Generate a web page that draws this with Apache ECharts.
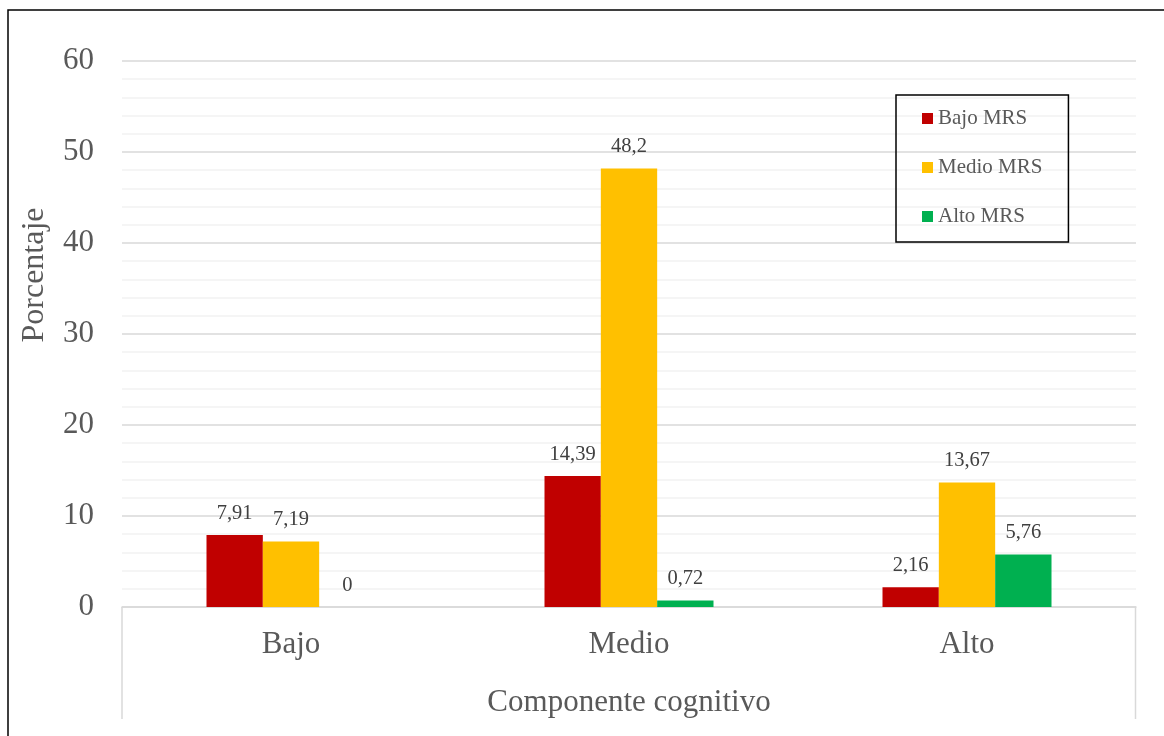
<!DOCTYPE html>
<html>
<head>
<meta charset="utf-8">
<script src="https://cdn.jsdelivr.net/npm/echarts@6/dist/echarts.min.js"></script>
<style>
html,body{margin:0;padding:0;background:#fff;}
#c{width:1164px;height:736px;}
</style>
</head>
<body>
<div id="c"></div>
<script>
const categories = ['Bajo', 'Medio', 'Alto'];
const seriesNames = ['Bajo MRS', 'Medio MRS', 'Alto MRS'];
const bajoMRS = [7.91, 14.39, 2.16];
const medioMRS = [7.19, 48.2, 13.67];
const altoMRS = [0, 0.72, 5.76];
const colors = ['#C00000', '#FFC000', '#00B050'];
const yTitle = 'Porcentaje';
const xTitle = 'Componente cognitivo';

const FONT = '"Liberation Serif", "Times New Roman", serif';
const chart = echarts.init(document.getElementById('c'), null, {renderer: 'canvas'});

const grid = {left: 122, right: 28, top: 61, bottom: 129};

function mkSeries(name, data, color) {
  return {
    name: name,
    type: 'bar',
    data: data,
    barGap: '0%',
    barCategoryGap: '50%',
    itemStyle: {color: color},
    label: {
      show: true,
      position: 'top',
      distance: 11,
      fontFamily: FONT,
      fontSize: 20.5,
      color: '#404040',
      formatter: p => String(p.value).replace('.', ',')
    }
  };
}

chart.setOption({
  animation: false,
  backgroundColor: '#fff',
  textStyle: {fontFamily: FONT},
  grid: grid,
  legend: {
    orient: 'vertical',
    left: 896,
    top: 95,
    data: seriesNames,
    icon: 'rect',
    itemWidth: 11,
    itemHeight: 11,
    itemGap: 28,
    padding: [13, 26, 15, 26],
    borderColor: '#000',
    borderWidth: 1.5,
    textStyle: {fontFamily: FONT, fontSize: 21, color: '#595959'}
  },
  xAxis: {
    type: 'category',
    data: categories,
    name: xTitle,
    nameLocation: 'middle',
    nameGap: 80,
    nameTextStyle: {fontFamily: FONT, fontSize: 31, color: '#595959'},
    axisLine: {show: true, lineStyle: {color: '#d9d9d9', width: 1.5}},
    axisTick: {show: false},
    axisLabel: {fontFamily: FONT, fontSize: 31, color: '#595959', margin: 22}
  },
  yAxis: {
    type: 'value',
    min: 0,
    max: 60,
    interval: 10,
    axisLine: {show: false},
    axisTick: {show: false},
    axisLabel: {fontFamily: FONT, fontSize: 31, color: '#595959', margin: 28},
    splitLine: {show: true, lineStyle: {color: '#d9d9d9', width: 1.5}},
    minorTick: {show: false, splitNumber: 5},
    minorSplitLine: {show: true, lineStyle: {color: '#f2f2f2', width: 1.5}}
  },
  graphic: [
    {type: 'rect', shape: {x: 8, y: 10, width: 1300, height: 900}, style: {fill: 'none', stroke: '#000', lineWidth: 1.5}, silent: true},
    {type: 'line', shape: {x1: 122, y1: 607, x2: 122, y2: 719}, style: {stroke: '#d9d9d9', lineWidth: 1.5}},
    {type: 'line', shape: {x1: 1135.5, y1: 607, x2: 1135.5, y2: 719}, style: {stroke: '#d9d9d9', lineWidth: 1.5}},
    {type: 'text', x: 35, y: 275, rotation: Math.PI / 2,
     style: {text: yTitle, font: '32px ' + FONT, fill: '#595959', align: 'center', verticalAlign: 'middle'}}
  ],
  series: [
    mkSeries(seriesNames[0], bajoMRS, colors[0]),
    mkSeries(seriesNames[1], medioMRS, colors[1]),
    mkSeries(seriesNames[2], altoMRS, colors[2])
  ]
});
</script>
</body>
</html>
